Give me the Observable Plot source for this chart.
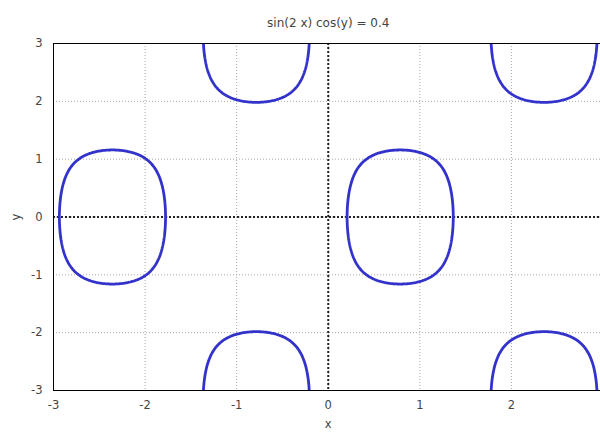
<!DOCTYPE html>
<html>
<head>
<meta charset="utf-8">
<script src="https://cdn.jsdelivr.net/npm/d3@7"></script>
<script src="https://cdn.jsdelivr.net/npm/@observablehq/plot@0.6"></script>
<style>
  html, body { margin: 0; padding: 0; background: #fff; overflow: hidden; }
  #chart svg { display: block; }
</style>
</head>
<body>
<div id="chart"></div>
<script>
// Implicit curve sin(2 x) cos(y) = 0.4 over the square [-3, 3] × [-3, 3]
const titleText = "sin(2 x) cos(y) = 0.4";
const frequency = 2;
const level = 0.4;
const xDomain = [-3, 3];
const yDomain = [-3, 3];
const xTicks = [-3, -2, -1, 0, 1, 2];
const yTicks = [-3, -2, -1, 0, 1, 2, 3];

const textColor = "#444";
const font = "'DejaVu Sans', sans-serif";
const plain = (d) => String(d);

const chart = Plot.plot({
  width: 600,
  height: 432,
  marginLeft: 53,
  marginRight: -2.5,
  marginTop: 43,
  marginBottom: 42,
  style: { fontFamily: font, fontSize: "11.5px", color: textColor, background: "#fff" },
  x: { domain: xDomain },
  y: { domain: yDomain },
  marks: [
    Plot.gridX(xTicks, { stroke: "#aaa", strokeOpacity: 1, strokeDasharray: "1,2" }),
    Plot.gridY(yTicks, { stroke: "#aaa", strokeOpacity: 1, strokeDasharray: "1,2" }),
    Plot.ruleX([0], { stroke: "#222", strokeWidth: 2, strokeDasharray: "2,2" }),
    Plot.ruleY([0], { stroke: "#222", strokeWidth: 2, strokeDasharray: "2,2" }),
    // sample past the plotting window so open branches are not closed along its edges
    Plot.contour({
      value: (x, y) => Math.sin(frequency * x) * Math.cos(y),
      x1: xDomain[0] - 0.5, x2: xDomain[1] + 0.5,
      y1: yDomain[0] - 0.5, y2: yDomain[1] + 0.5,
      thresholds: [level],
      pixelSize: 1,
      fill: "none",
      stroke: "#3333cc",
      strokeWidth: 2.8,
      clip: true
    }),
    Plot.frame({ stroke: "#000", strokeWidth: 1 }),
    Plot.axisX(xTicks, {
      tickSize: 0, tickPadding: 10, fill: textColor, tickFormat: plain,
      label: "x", labelAnchor: "center", labelArrow: "none", labelOffset: 37
    }),
    Plot.axisY(yTicks, {
      tickSize: 0, tickPadding: 11, fill: textColor, tickFormat: plain,
      label: "y", labelAnchor: "center", labelArrow: "none", labelOffset: 42
    }),
    Plot.text([titleText], {
      frameAnchor: "top", dy: -25, fill: textColor, fontSize: 12
    })
  ]
});

document.getElementById("chart").appendChild(chart);
</script>
</body>
</html>
